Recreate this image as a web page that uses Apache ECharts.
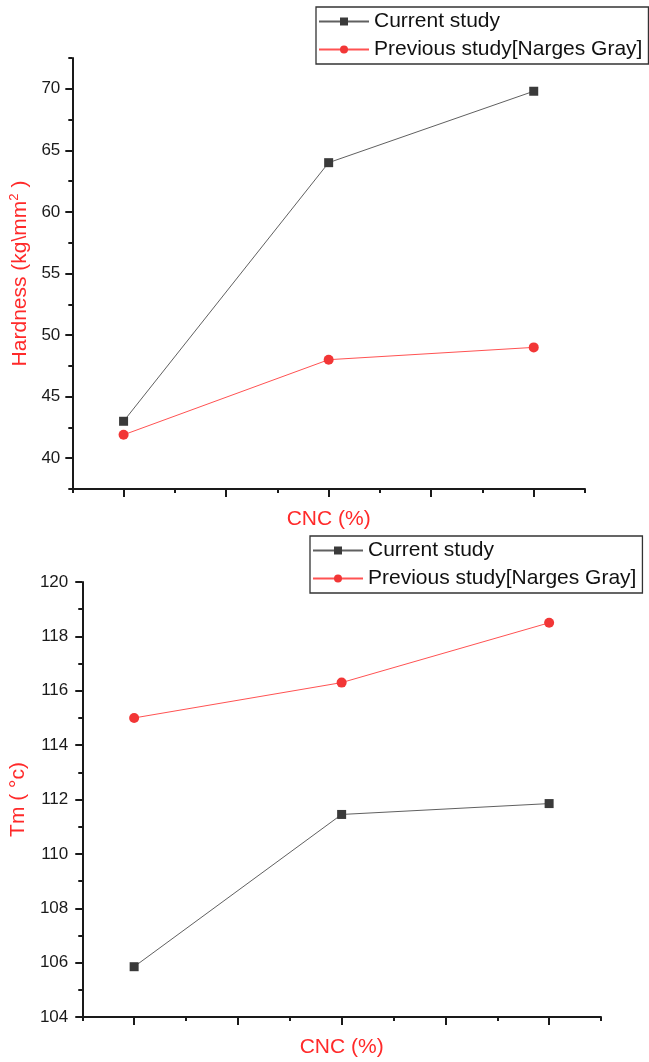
<!DOCTYPE html>
<html>
<head>
<meta charset="utf-8">
<script src="https://cdn.jsdelivr.net/npm/echarts@6/dist/echarts.min.js"></script>
<style>
html,body{margin:0;padding:0;background:#fff;}
#chart{width:649px;height:1062px;}
</style>
</head>
<body>
<div id="chart"></div>
<script>
// ---- data ----
const xPositions = [1, 3, 5];
const seriesNames = ['Current study', 'Previous study[Narges Gray]'];
const hardnessCurrent = [43, 64, 69.8];
const hardnessPrevious = [41.9, 48, 49];
const tmCurrent = [105.85, 111.45, 111.85];
const tmPrevious = [115, 116.3, 118.5];
const xMajorTicks = [1, 2, 3, 4, 5];
const hardnessMajorTicks = [40, 45, 50, 55, 60, 65, 70];
const xTitle = 'CNC (%)';
const hardnessTitle = ['Hardness (kg\\mm', '2', ' )'];
const tmTitle = 'Tm ( \u00b0c)';

const pairs = arr => xPositions.map((x, i) => [x, arr[i]]);

const FONT = 'Arial, "Liberation Sans", sans-serif';
const AX = '#1a1a1a';
const RED = '#ff2a2a';
const AW = 2;

function xAxesFor(grid) {
  return [
    { gridIndex: grid, type: 'value', min: 0.5, max: 5.5, interval: 0.5, position: 'bottom',
      axisLine: { show: true, onZero: false, lineStyle: { color: AX, width: AW } },
      axisTick: { show: true, length: 4, lineStyle: { color: AX, width: AW } },
      axisLabel: { show: false }, splitLine: { show: false },
      name: xTitle, nameLocation: 'middle', nameGap: 20,
      nameTextStyle: { color: RED, fontSize: 21, fontFamily: FONT } },
    { gridIndex: grid, type: 'value', min: 0.5, max: 5.5, position: 'bottom',
      axisLine: { show: false, onZero: false },
      axisTick: { show: true, length: 8, customValues: xMajorTicks, lineStyle: { color: AX, width: AW } },
      axisLabel: { show: false }, splitLine: { show: false } }
  ];
}

const series = [];
function addSeries(xi, yi, cur, prev) {
  series.push({
    name: seriesNames[0], type: 'line', xAxisIndex: xi, yAxisIndex: yi,
    data: pairs(cur), symbol: 'rect', symbolSize: 9,
    lineStyle: { color: '#606060', width: 1 }, itemStyle: { color: '#3a3a3a' },
    emphasis: { disabled: true }, z: 3
  });
  series.push({
    name: seriesNames[1], type: 'line', xAxisIndex: xi, yAxisIndex: yi,
    data: pairs(prev), symbol: 'circle', symbolSize: 10,
    lineStyle: { color: '#ff5252', width: 1 }, itemStyle: { color: '#f23636' },
    emphasis: { disabled: true }, z: 4
  });
}
addSeries(0, 0, hardnessCurrent, hardnessPrevious);
addSeries(2, 2, tmCurrent, tmPrevious);

function legendAt(left, top) {
  return {
    left: left, top: top, orient: 'vertical', data: seriesNames,
    itemWidth: 50, itemHeight: 10, itemGap: 7,
    padding: [4, 6, 4, 2], borderColor: '#333', borderWidth: 1.3,
    textStyle: { fontSize: 21, color: '#111', fontFamily: FONT },
    selectedMode: false
  };
}

const option = {
  animation: false,
  backgroundColor: '#fff',
  grid: [
    { left: 72, right: 64, top: 58, bottom: 573, containLabel: false },
    { left: 78, right: 48, top: 582, bottom: 45, containLabel: false }
  ],
  legend: [legendAt(316, 7), legendAt(310, 536)],
  xAxis: [...xAxesFor(0), ...xAxesFor(1)],
  yAxis: [
    { gridIndex: 0, type: 'value', min: 37.5, max: 72.5, interval: 2.5, position: 'left',
      axisLine: { show: true, onZero: false, lineStyle: { color: AX, width: AW } },
      axisTick: { show: true, length: 4, lineStyle: { color: AX, width: AW } },
      axisLabel: { fontSize: 17, color: AX, fontFamily: FONT, margin: 12,
        formatter: v => (Math.abs(v % 5) < 1e-9 ? String(v) : '') },
      splitLine: { show: false },
      name: '{a|' + hardnessTitle[0] + '}{b|' + hardnessTitle[1] + '}{a|' + hardnessTitle[2] + '}',
      nameLocation: 'middle', nameRotate: 90, nameGap: 36,
      nameTextStyle: { color: RED, fontSize: 21, fontFamily: FONT,
        rich: { a: { color: RED, fontSize: 21, fontFamily: FONT, lineHeight: 24 },
                b: { color: RED, fontSize: 13, fontFamily: FONT, verticalAlign: 'top', lineHeight: 24 } } } },
    { gridIndex: 0, type: 'value', min: 37.5, max: 72.5, position: 'left',
      axisLine: { show: false, onZero: false },
      axisTick: { show: true, length: 7, customValues: hardnessMajorTicks, lineStyle: { color: AX, width: AW } },
      axisLabel: { show: false }, splitLine: { show: false } },
    { gridIndex: 1, type: 'value', min: 104, max: 120, interval: 2, position: 'left',
      axisLine: { show: true, onZero: false, lineStyle: { color: AX, width: AW } },
      axisTick: { show: true, length: 7, lineStyle: { color: AX, width: AW } },
      minorTick: { show: true, splitNumber: 2, length: 4, lineStyle: { color: AX, width: AW } },
      axisLabel: { fontSize: 17, color: AX, fontFamily: FONT, margin: 14 },
      splitLine: { show: false },
      name: tmTitle, nameLocation: 'middle', nameRotate: 90, nameGap: 43,
      nameTextStyle: { color: RED, fontSize: 21, fontFamily: FONT } }
  ],
  series: series
};

const chart = echarts.init(document.getElementById('chart'), null, { renderer: 'canvas' });
chart.setOption(option);
</script>
</body>
</html>
